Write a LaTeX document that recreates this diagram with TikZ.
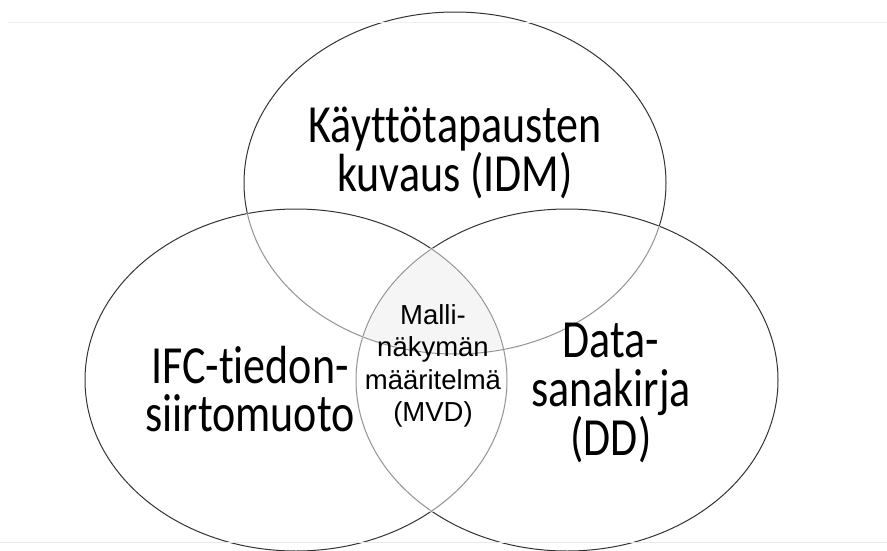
\documentclass[tikz,border=0pt]{standalone}
\usepackage{fontspec}
\newfontfamily\calibri{Carlito}[Ligatures=NoCommon]
\newfontfamily\arial{Liberation Sans}
\begin{document}
\begin{tikzpicture}[x=1pt, y=-1pt]
  \useasboundingbox (0, 0) rectangle (887, 550);  % Bildrand wie im Original.
  \tikzstyle{ring}=[draw=black!80, line width=1pt]
  \tikzstyle{inner}=[draw=black!42, line width=1pt]
  \tikzstyle{erase}=[draw=white, line width=2.2pt]
  \tikzstyle{big}=[font=\calibri\fontsize{44}{40}\selectfont, align=center, inner sep=0pt, yscale=1.22, transform shape]
  \tikzstyle{small}=[font=\arial\fontsize{27.5}{32.5}\selectfont, align=center, inner sep=0pt]

  \coordinate (idm) at (455, 183);
  \coordinate (ifc) at (296, 380);
  \coordinate (dd)  at (567, 380);

  % Schnitt aller drei Mengen leicht grau.
  \begin{scope}
    \clip (idm) ellipse [x radius=211, y radius=171];
    \clip (ifc) ellipse [x radius=211, y radius=171];
    \fill[black!4] (dd) ellipse [x radius=211, y radius=171];
  \end{scope}

  \path[ring] (idm) ellipse [x radius=211, y radius=171];
  \path[ring] (ifc) ellipse [x radius=211, y radius=171];
  \path[ring] (dd)  ellipse [x radius=211, y radius=171];

  % Innere Boegen heller.
  \begin{scope}
    \clip (ifc) ellipse [x radius=211, y radius=171];
    \path[erase] (idm) ellipse [x radius=211, y radius=171] (dd) ellipse [x radius=211, y radius=171];
    \path[inner] (idm) ellipse [x radius=211, y radius=171] (dd) ellipse [x radius=211, y radius=171];
  \end{scope}
  \begin{scope}
    \clip (dd) ellipse [x radius=211, y radius=171];
    \path[erase] (idm) ellipse [x radius=211, y radius=171] (ifc) ellipse [x radius=211, y radius=171];
    \path[inner] (idm) ellipse [x radius=211, y radius=171] (ifc) ellipse [x radius=211, y radius=171];
  \end{scope}

  \draw[black!6] (8, 22) -- (887, 22);
  \draw[black!9] (0, 542) -- (887, 542);

  \node[big] (idmtext) at (455, 153) {Käyttötapausten\\kuvaus (IDM)};
  \node[big] (ifctext) at (250, 389) {IFC-tiedon-\\siirtomuoto};
  \node[big] (ddtext)  at (611, 393) {Data-\\sanakirja\\(DD)};
  \node[small] (mvdtext) at (433, 366) {Malli-\\näkymän\\määritelmä\\(MVD)};
\end{tikzpicture}
\end{document}
